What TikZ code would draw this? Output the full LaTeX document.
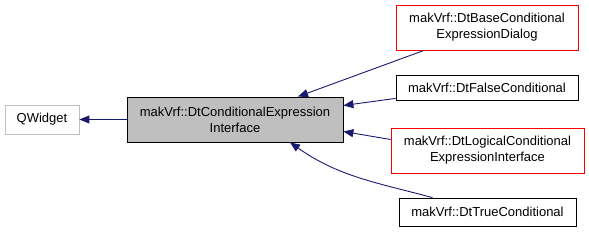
\documentclass[tikz,border=0pt]{standalone}
\usepackage{fontspec}
\setmainfont{Liberation Sans}
\usetikzlibrary{arrows.meta,calc}

\definecolor{edgeblue}{HTML}{191970}
\definecolor{boxgray}{HTML}{BFBFBF}
\definecolor{boxred}{HTML}{FF0000}

\begin{document}
\begin{tikzpicture}[
  x=1pt,y=-1pt,
  line width=0.8pt,
  % every class is a plain box; the outline colour says what kind it is
  cls/.style={draw,fill=white,inner sep=0pt,align=center,
              font=\fontsize{13}{16}\selectfont},
  plaincls/.style={cls,draw=black},
  redcls/.style={cls,draw=boxred},
  extcls/.style={cls,draw=boxgray},
  focus/.style={cls,draw=black,fill=boxgray},
  % inheritance: the arrow points at the base class
  inherit/.style={draw=edgeblue,line width=0.9pt,
                  -{Triangle[length=10pt,width=8pt,fill=edgeblue]}},
]

\useasboundingbox (0,0) rectangle (589,232);

%--- the class in focus and its base -----------------------------------------
\node[focus,minimum width=216pt,minimum height=45pt] (iface) at (235,119.5)
  {makVrf::DtConditionalExpression\\Interface};
\node[extcls,minimum width=74pt,minimum height=29pt] (qwidget) at (42,119.5)
  {QWidget};

%--- derived classes ---------------------------------------------------------
\node[redcls,minimum width=182pt,minimum height=45pt] (basedlg) at (487,27.5)
  {makVrf::DtBaseConditional\\ExpressionDialog};
\node[plaincls,minimum width=182pt,minimum height=25pt] (falsecond) at (487,87.5)
  {makVrf::DtFalseConditional};
\node[redcls,minimum width=193pt,minimum height=45pt] (logical) at (487.5,150.5)
  {makVrf::DtLogicalConditional\\ExpressionInterface};
\node[plaincls,minimum width=177pt,minimum height=28pt] (truecond) at (487.5,212)
  {makVrf::DtTrueConditional};

%--- inheritance edges -------------------------------------------------------
\draw[inherit] (iface.west) -- (qwidget.east);
\draw[inherit] ([xshift=-63pt]basedlg.south) -- ([xshift=63pt]iface.north);
\draw[inherit] ([yshift=2pt]falsecond.south west) -- ([yshift=14pt]iface.east);
\draw[inherit] ([yshift=11pt]logical.west) -- ([yshift=-12pt]iface.east);
\draw[inherit] ([xshift=-55pt]truecond.north) to[out=165,in=-35]
  ([xshift=55pt]iface.south);

\end{tikzpicture}
\end{document}
